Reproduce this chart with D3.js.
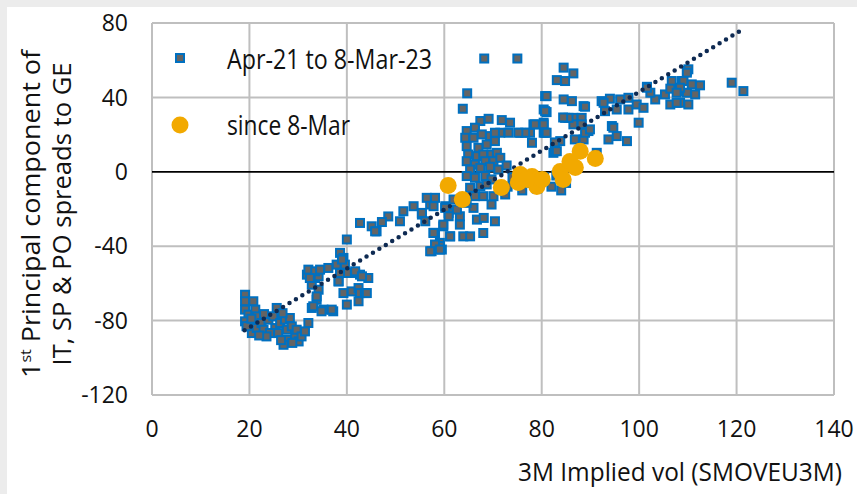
<!DOCTYPE html>
<html>
<head>
<meta charset="utf-8">
<script src="https://cdn.jsdelivr.net/npm/d3@7"></script>
<style>
  html, body { margin: 0; padding: 0; background: #fff; }
  svg { display: block; }
  text { font-family: "Open Sans", "Noto Sans", sans-serif; font-weight: 400; fill: #111; }
</style>
</head>
<body>
<svg id="chart"></svg>
<script>
// Apr-21 to 8-Mar-23 : [implied vol, 1st PC]
const history = [
  [19.1,-66.1],[19.1,-69.6],[19.1,-74.1],[20.8,-69.6],[19.8,-76.8],[21.2,-74.1],[21.5,-77.7],[19.1,-80.4],
  [20.1,-83.1],[20.5,-86.7],[21.5,-84.0],[22.5,-81.3],[22.9,-84.9],[23.9,-79.5],[24.9,-77.7],[25.6,-73.2],
  [25.3,-84.0],[26.3,-81.3],[25.9,-86.7],[27.3,-79.5],[27.7,-90.3],[27.7,-84.9],[28.3,-78.6],[28.7,-83.1],
  [29.4,-87.6],[29.7,-84.9],[30.1,-91.2],[30.7,-88.5],[31.4,-85.8],[32.1,-81.3],[27.0,-93.0],[24.2,-86.7],
  [23.5,-88.5],[19.4,-83.0],[22.0,-88.0],[26.5,-90.5],[28.8,-92.0],[20.4,-79.0],[23.0,-76.5],[26.8,-76.0],
  [31.8,-55.3],[33.5,-57.1],[34.2,-56.2],[32.8,-60.7],[34.2,-63.4],[33.8,-68.8],[32.8,-73.2],[35.2,-74.1],
  [37.2,-75.0],[38.6,-54.4],[40.0,-54.4],[41.7,-54.4],[42.7,-55.3],[44.4,-57.1],[38.3,-58.9],[39.3,-65.2],
  [41.0,-64.3],[42.4,-62.5],[42.7,-65.2],[43.7,-65.2],[42.4,-69.6],[40.0,-71.4],
  [42.7,-27.5],[45.1,-29.3],[46.1,-32.0],[40.0,-36.4],[38.6,-43.6],[39.3,-46.3],[37.9,-49.9],[39.6,-49.9],
  [32.1,-52.6],[33.5,-53.5],[34.5,-52.6],[36.2,-51.7],[38.6,-54.4],[41.7,-53.5],[43.1,-56.2],[32.4,-57.1],
  [38.3,-58.9],[44.1,-65.2],[33.8,-67.0],[33.1,-72.3],[36.9,-74.1],[34.8,-75.0],[39.0,-47.2],
  [51.6,-21.2],[53.7,-18.5],[55.4,-23.0],[50.9,-26.6],[57.1,-17.6],[60.2,-18.5],[60.9,-22.1],[59.8,-29.3],
  [58.1,-32.9],[61.2,-34.7],[59.1,-38.2],[57.4,-42.7],[59.5,-41.8],[58.5,-40.0],[45.8,-32.0],[48.5,-24.0],
  [47.2,-27.0],[57.8,-32.8],[59.1,-40.0],
  [64.7,42.2],[63.8,33.9],[67.4,27.3],[69.1,28.5],[71.8,27.8],[73.5,26.4],[75.6,21.0],[77.6,21.0],
  [78.3,25.5],[80.4,26.4],[80.4,21.0],[81.0,32.1],[64.6,21.9],[66.3,23.7],[64.3,18.3],[66.0,18.3],
  [67.7,20.1],[69.4,19.2],[71.5,21.0],[73.2,21.0],[70.4,16.5],[68.7,14.7],[67.0,12.9],[64.6,13.8],
  [64.9,9.3],[66.7,8.4],[68.0,9.3],[69.7,9.3],[70.8,10.2],[64.6,5.7],[66.3,3.9],[68.4,5.7],
  [70.1,5.7],[71.5,7.5],[65.3,1.2],[67.4,2.1],[69.4,2.7],[71.1,1.2],[72.8,3.4],[64.6,-2.3],
  [66.3,-3.2],[68.4,-2.3],[69.7,-4.1],[65.3,-8.6],[67.4,-7.7],[68.7,-6.8],[66.3,-13.1],[68.0,-13.1],
  [70.1,-13.1],[72.5,-12.2],[69.7,-17.6],[66.0,-19.4],[64.6,-16.7],[63.2,-23.9],[62.6,-20.3],[61.9,-14.9],
  [58.1,-14.0],[56.4,-14.0],[57.8,-18.5],[55.4,-22.1],[56.1,-26.6],[60.2,-19.4],[60.9,-23.9],[63.2,-28.4],
  [66.7,-25.7],[68.1,-24.8],[70.4,-26.6],[68.0,-32.9],[59.8,-28.4],[57.8,-32.9],[61.2,-34.7],[63.9,-34.7],
  [65.3,-34.7],[58.1,-39.1],[57.1,-42.7],[59.1,-41.8],[80.7,40.7],[80.4,33.5],
  [68.2,60.9],[75.0,60.9],
  [84.5,56.0],[86.5,52.9],[83.1,49.3],[84.8,48.8],[81.0,40.7],[80.7,32.6],[80.4,25.5],[80.7,21.0],
  [84.5,38.9],[86.2,38.0],[88.6,35.3],[84.8,29.0],[86.5,29.0],[88.2,29.0],[86.5,25.5],[88.2,25.5],
  [89.6,21.9],[88.6,17.4],[86.8,17.4],[83.8,16.5],[82.4,10.2],[91.3,10.2],[92.3,38.0],[94.0,39.3],
  [93.0,32.6],[95.4,33.5],[94.4,24.6],[95.4,19.2],[93.7,17.4],[97.5,16.5],[96.1,38.9],[97.8,39.8],
  [97.8,33.5],[99.5,36.2],[100.9,34.4],[99.9,26.4],[101.6,45.7],[103.3,38.9],[105.3,41.6],[106.7,48.8],
  [108.8,48.8],[106.4,36.2],[108.4,37.1],[109.8,42.5],[109.8,54.2],[108.1,43.4],[102.3,42.5],
  [110.1,55.1],[109.8,53.3],[109.1,48.8],[110.8,47.0],[112.5,46.5],[108.4,45.2],[106.4,44.7],[107.7,42.5],
  [111.5,41.6],[107.7,37.1],[110.1,36.2],[101.6,45.2],[119.0,47.9],[121.4,43.4],
  [92.7,37.1],[88.9,35.0],[85.5,29.0],[94.7,23.7],[82.7,11.1],[83.1,11.1],[82.7,15.8],[84.4,29.2],
  [88.9,21.0],[89.9,22.8],[78.0,15.6],[78.6,25.5],[76.6,21.0],[75.2,21.0],[70.4,21.0],[81.0,21.0],
  [80.5,-3.0],[82.0,-8.0],[84.0,-10.0],[85.0,-6.0],[83.0,-2.0],[79.0,-9.0],[77.0,-6.0],[74.0,-3.0],
  [76.0,-10.0],[73.0,-8.0]
];

// since 8-Mar
const recent = [
  [60.8,-7.4],[63.7,-14.9],[71.7,-8.5],[75.2,-5.8],[75.6,-1.5],[78.0,-2.5],[79.0,-7.9],[80.1,-4.1],
  [77.0,-4.1],[83.8,0.2],[84.4,-4.1],[85.8,5.5],[86.9,2.3],[87.9,11.0],[91.0,7.2]
];

// dotted linear trend, end points
const trendX = [19, 121];
const trendY = [-85.2, 76.2];

const xTicks = [0, 20, 40, 60, 80, 100, 120, 140];
const yTicks = [-120, -80, -40, 0, 40, 80];

const width = 857, height = 494;
const margin = { top: 23, right: 23, bottom: 99, left: 152 };

const svg = d3.select("#chart").attr("width", width).attr("height", height);

// grey frame strips
svg.append("rect").attr("x", 0).attr("y", 0).attr("width", width).attr("height", 7).attr("fill", "#ececec");
svg.append("rect").attr("x", 0).attr("y", 0).attr("width", 7).attr("height", height).attr("fill", "#ececec");

const x = d3.scaleLinear().domain([0, 140]).range([margin.left, width - margin.right]);
const y = d3.scaleLinear().domain([-120, 80]).range([height - margin.bottom, margin.top]);

// gridlines
svg.append("g")
  .selectAll("line")
  .data(xTicks)
  .join("line")
  .attr("x1", d => x(d)).attr("x2", d => x(d))
  .attr("y1", y(80)).attr("y2", y(-120))
  .attr("stroke", "#bfbfbf").attr("stroke-width", 2);

svg.append("g")
  .selectAll("line")
  .data(yTicks.filter(d => d !== 0))
  .join("line")
  .attr("x1", x(0)).attr("x2", x(140))
  .attr("y1", d => y(d)).attr("y2", d => y(d))
  .attr("stroke", "#bfbfbf").attr("stroke-width", 2);

// zero line
svg.append("line")
  .attr("x1", x(0)).attr("x2", x(140))
  .attr("y1", y(0)).attr("y2", y(0))
  .attr("stroke", "#000").attr("stroke-width", 1.8);

// tick labels
svg.append("g")
  .selectAll("text")
  .data(yTicks)
  .join("text")
  .attr("x", 128)
  .attr("y", d => y(d))
  .attr("dy", "0.36em")
  .attr("text-anchor", "end")
  .attr("font-size", 23)
  .text(d => d);

svg.append("g")
  .selectAll("text")
  .data(xTicks)
  .join("text")
  .attr("x", d => x(d))
  .attr("y", 429)
  .attr("dy", "0.36em")
  .attr("text-anchor", "middle")
  .attr("font-size", 23)
  .text(d => d);

// axis titles
svg.append("text")
  .attr("x", 842).attr("y", 481)
  .attr("text-anchor", "end")
  .attr("font-size", 25)
  .attr("textLength", 324).attr("lengthAdjust", "spacingAndGlyphs")
  .text("3M Implied vol (SMOVEU3M)");

const yTitle = svg.append("text")
  .attr("transform", "translate(40,214) rotate(-90)")
  .attr("text-anchor", "middle")
  .attr("font-size", 25)
  .attr("textLength", 328).attr("lengthAdjust", "spacingAndGlyphs");
yTitle.append("tspan").text("1");
yTitle.append("tspan").attr("font-size", 15).attr("dy", -9).text("st");
yTitle.append("tspan").attr("dy", 9).text(" Principal component of");

svg.append("text")
  .attr("transform", "translate(71,214) rotate(-90)")
  .attr("text-anchor", "middle")
  .attr("font-size", 25)
  .attr("textLength", 303).attr("lengthAdjust", "spacingAndGlyphs")
  .text("IT, SP & PO spreads to GE");

// history squares
svg.append("g")
  .selectAll("rect")
  .data(history)
  .join("rect")
  .attr("x", d => x(d[0]) - 4)
  .attr("y", d => y(d[1]) - 4)
  .attr("width", 8).attr("height", 8)
  .attr("fill", "#646464")
  .attr("stroke", "#0070c0").attr("stroke-width", 2);

// trend line
const trend = trendX.map((v, i) => [v, trendY[i]]);
svg.append("path")
  .datum(trend)
  .attr("d", d3.line().x(d => x(d[0])).y(d => y(d[1])))
  .attr("fill", "none")
  .attr("stroke", "#0e2a52")
  .attr("stroke-width", 4.5)
  .attr("stroke-linecap", "round")
  .attr("stroke-dasharray", "0 7.5");

// recent circles
svg.append("g")
  .selectAll("circle")
  .data(recent)
  .join("circle")
  .attr("cx", d => x(d[0]))
  .attr("cy", d => y(d[1]))
  .attr("r", 8.5)
  .attr("fill", "#f2a900");

// legend
svg.append("rect")
  .attr("x", 176).attr("y", 54).attr("width", 8).attr("height", 8)
  .attr("fill", "#646464").attr("stroke", "#0070c0").attr("stroke-width", 2);
svg.append("text").attr("x", 227).attr("y", 59).attr("dy", "0.36em")
  .attr("font-size", 27)
  .attr("textLength", 205).attr("lengthAdjust", "spacingAndGlyphs")
  .text("Apr-21 to 8-Mar-23");

svg.append("circle").attr("cx", 180).attr("cy", 125).attr("r", 8.5).attr("fill", "#f2a900");
svg.append("text").attr("x", 227).attr("y", 125).attr("dy", "0.36em")
  .attr("font-size", 27)
  .attr("textLength", 123).attr("lengthAdjust", "spacingAndGlyphs")
  .text("since 8-Mar");
</script>
</body>
</html>
